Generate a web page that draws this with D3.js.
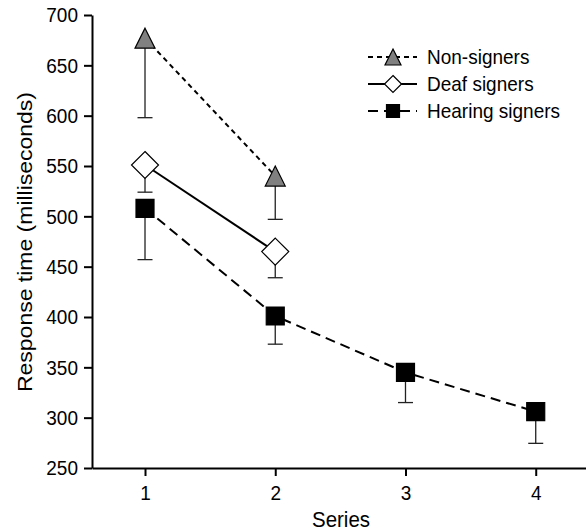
<!DOCTYPE html>
<html>
<head>
<meta charset="utf-8">
<script src="https://cdn.jsdelivr.net/npm/d3@7"></script>
<style>
  html, body { margin: 0; padding: 0; background: #fff; }
  svg { display: block; font-family: "Liberation Sans", Arial, sans-serif; }
</style>
</head>
<body>
<svg id="chart" width="586" height="532"></svg>
<script>
// Session numbers on the x axis
const sessions = [1, 2, 3, 4];
const yTicks = [250, 300, 350, 400, 450, 500, 550, 600, 650, 700];

// Mean response times (ms) and lower error extents per group
const nonSignersMean = [677, 540];
const nonSignersErr = [79, 43];
const deafSignersMean = [551, 465];
const deafSignersErr = [27, 26];
const hearingSignersMean = [508, 401, 345, 306];
const hearingSignersErr = [51, 28, 30, 31.5];

const groupNames = ["Non-signers", "Deaf signers", "Hearing signers"];

const svg = d3.select("#chart");

const x = d3.scaleLinear().domain([0.593, 4.386]).range([92, 586]);
const y = d3.scaleLinear().domain([250, 700]).range([468, 15]);

const groups = [
  { name: groupNames[0], mean: nonSignersMean, err: nonSignersErr, shape: "triangle", dash: "5,4", fill: "#808080" },
  { name: groupNames[1], mean: deafSignersMean, err: deafSignersErr, shape: "diamond", dash: null, fill: "#ffffff" },
  { name: groupNames[2], mean: hearingSignersMean, err: hearingSignersErr, shape: "square", dash: "10,6", fill: "#000000" }
];

// Marker path generators, centred on the point (bounding-box centred)
function markerPath(shape, s) {
  const h = s / 2;
  if (shape === "triangle") return `M0,${-h}L${h},${h}L${-h},${h}Z`;
  if (shape === "diamond") return `M0,${-h}L${h},0L0,${h}L${-h},0Z`;
  return `M${-h},${-h}H${h}V${h}H${-h}Z`;
}
const markerSize = { triangle: 20, diamond: 27, square: 18 };
const legendSize = { triangle: 16, diamond: 17, square: 13 };

// Text is drawn slightly taller than wide
const textStretch = "scale(1,1.1)";

// Axes
const yAxis = d3.axisLeft(y).tickValues(yTicks).tickSize(8).tickPadding(6).tickSizeOuter(0);
const xAxis = d3.axisBottom(x).tickValues(sessions).tickSize(8).tickPadding(7.5).tickSizeOuter(0).tickFormat(d3.format("d"));

const gy = svg.append("g").attr("transform", "translate(92,0)").call(yAxis);
const gx = svg.append("g").attr("transform", "translate(0,468)").call(xAxis);
[gx, gy].forEach(g => {
  g.select(".domain").attr("stroke", "#000").attr("stroke-width", 2);
  g.selectAll(".tick line").attr("stroke", "#000").attr("stroke-width", 2);
  g.selectAll(".tick text").attr("fill", "#000").style("font-size", "19px")
    .style("font-family", "'Liberation Sans', Arial, sans-serif")
    .attr("transform", textStretch);
});

// Axis titles
svg.append("text")
  .attr("transform", "translate(24,242) rotate(-90)")
  .attr("text-anchor", "middle")
  .attr("dominant-baseline", "central")
  .attr("textLength", 300)
  .attr("lengthAdjust", "spacingAndGlyphs")
  .style("font-size", "21px")
  .text("Response time (milliseconds)");

svg.append("text")
  .attr("transform", `translate(341,527) ${textStretch}`)
  .attr("text-anchor", "middle")
  .style("font-size", "20.5px")
  .text("Series");

// Error bars (drawn first so markers sit on top)
groups.forEach(g => {
  const eg = svg.append("g");
  g.mean.forEach((m, i) => {
    const cx = x(sessions[i]);
    const lo = y(m - g.err[i]);
    eg.append("line").attr("x1", cx).attr("x2", cx).attr("y1", y(m)).attr("y2", lo)
      .attr("stroke", "#222").attr("stroke-width", 1.3);
    eg.append("line").attr("x1", cx - 7.5).attr("x2", cx + 7.5).attr("y1", lo).attr("y2", lo)
      .attr("stroke", "#222").attr("stroke-width", 1.3);
  });
});

// Connecting lines
const line = d3.line().x((d, i) => x(sessions[i])).y(d => y(d));
groups.forEach(g => {
  svg.append("path").datum(g.mean)
    .attr("d", line)
    .attr("fill", "none")
    .attr("stroke", "#000")
    .attr("stroke-width", 2)
    .attr("stroke-dasharray", g.dash);
});

// Markers
groups.forEach(g => {
  svg.append("g").selectAll("path").data(g.mean).join("path")
    .attr("transform", (d, i) => `translate(${x(sessions[i])},${y(d)})`)
    .attr("d", markerPath(g.shape, markerSize[g.shape]))
    .attr("fill", g.fill)
    .attr("stroke", "#000")
    .attr("stroke-width", 1.2);
});

// Legend
const legend = svg.append("g");
const legendRows = [57, 84, 111];
groups.forEach((g, i) => {
  const ly = legendRows[i];
  legend.append("line").attr("x1", 368).attr("x2", 417).attr("y1", ly).attr("y2", ly)
    .attr("stroke", "#000").attr("stroke-width", 2)
    .attr("stroke-dasharray", g.dash);
  legend.append("path")
    .attr("transform", `translate(393,${ly})`)
    .attr("d", markerPath(g.shape, legendSize[g.shape]))
    .attr("fill", g.fill).attr("stroke", "#000").attr("stroke-width", 1.2);
  legend.append("text")
    .attr("transform", `translate(427,${ly}) ${textStretch}`)
    .attr("dominant-baseline", "central")
    .style("font-size", "19px")
    .text(g.name);
});
</script>
</body>
</html>
